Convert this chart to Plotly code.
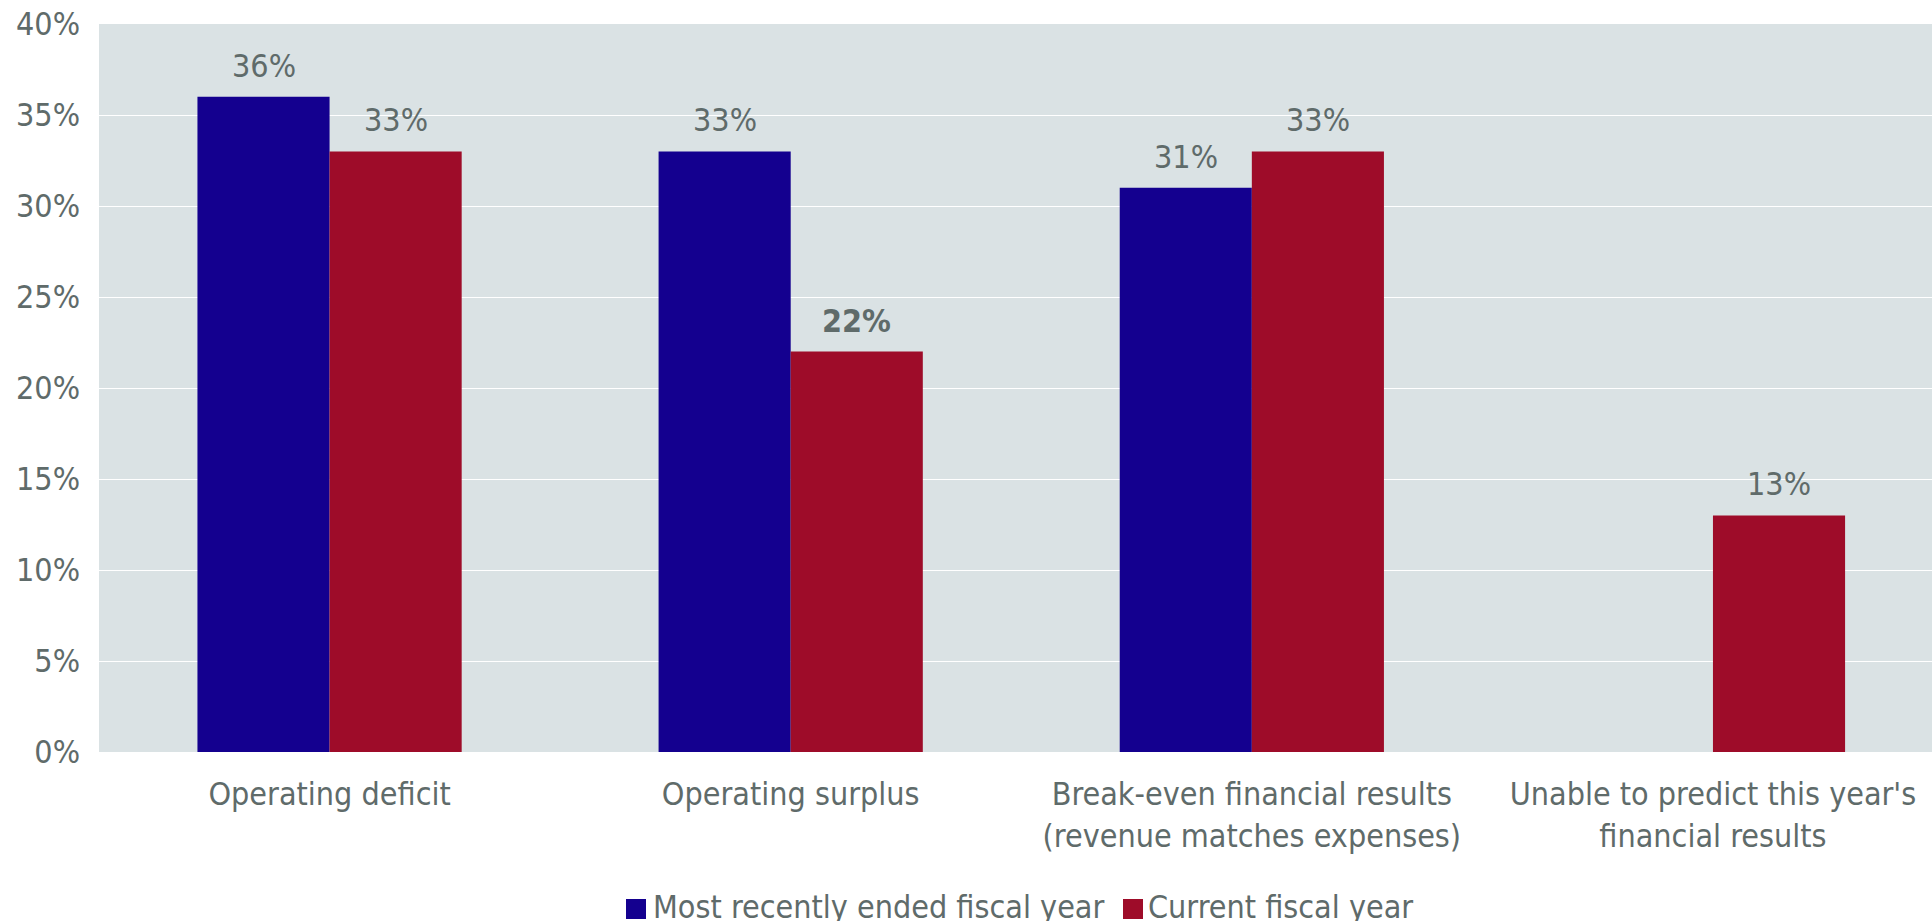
import plotly.graph_objects as go

categories = [
    "Operating deficit",
    "Operating surplus",
    "Break-even financial results<br>(revenue matches expenses)",
    "Unable to predict this year's<br>financial results",
]
series_names = ["Most recently ended fiscal year", "Current fiscal year"]
recent_year = [36, 33, 31, None]
current_year = [33, 22, 33, 13]
bold_labels = {("Current fiscal year", 1)}

y_ticks = [0, 5, 10, 15, 20, 25, 30, 35, 40]

colors = ["#14008f", "#9e0c29"]
text_gray = "#5f6b6a"
font_family = "DejaVu Sans Condensed, DejaVu Sans, sans-serif"
font_size = 32

# figure geometry
W, H = 1932, 921
M_L, M_R, M_T, M_B = 99, 0, 24, 169
BARGAP = 0.427
X_RANGE = [-0.5, 3.475]
plot_w = W - M_L - M_R
plot_h = H - M_T - M_B
cat_px = plot_w / (X_RANGE[1] - X_RANGE[0])
bar_px = cat_px * (1 - BARGAP) / 2


def label_text(name, i, v):
    if (name, i) in bold_labels:
        return f"<b>{v}%</b>"
    return f"{v}%"


fig = go.Figure()
annotations = []
for k, (name, values, color) in enumerate(zip(series_names, [recent_year, current_year], colors)):
    fig.add_trace(go.Bar(
        name=name,
        x=categories,
        y=values,
        marker=dict(color=color, line=dict(width=0)),
        showlegend=False,
    ))
    # value labels above each bar
    shift = (k - 0.5) * bar_px
    for i, (cat, v) in enumerate(zip(categories, values)):
        if v is None:
            continue
        annotations.append(dict(
            x=cat, y=v, xref="x", yref="y",
            text=label_text(name, i, v),
            showarrow=False,
            xanchor="center", yanchor="middle",
            xshift=shift, yshift=31,
            font=dict(family=font_family, size=font_size, color=text_gray),
        ))


def px_to_paper(px, py):
    return (px - M_L) / plot_w, (H - M_B - py) / plot_h


# legend drawn below the axis: swatch + caption per series
legend_items = [(626, 653), (1123, 1148)]
shapes = []
for (sw_x, txt_x), name, color in zip(legend_items, series_names, colors):
    x0, y0 = px_to_paper(sw_x, 919)
    x1, y1 = px_to_paper(sw_x + 20, 899)
    shapes.append(dict(
        type="rect", xref="paper", yref="paper",
        x0=x0, x1=x1, y0=y0, y1=y1,
        fillcolor=color, line=dict(width=0),
    ))
    tx, ty = px_to_paper(txt_x - 2, 907)
    annotations.append(dict(
        x=tx, y=ty, xref="paper", yref="paper",
        text=name, showarrow=False,
        xanchor="left", yanchor="middle",
        font=dict(family=font_family, size=font_size, color=text_gray),
    ))

fig.update_layout(
    width=W,
    height=H,
    margin=dict(l=M_L, r=M_R, t=M_T, b=M_B, autoexpand=False),
    paper_bgcolor="white",
    plot_bgcolor="#dae2e4",
    barmode="group",
    bargap=BARGAP,
    bargroupgap=0,
    font=dict(family=font_family, size=font_size, color=text_gray),
    showlegend=False,
    annotations=annotations,
    shapes=shapes,
)

fig.update_xaxes(
    range=X_RANGE,
    showgrid=False,
    showline=False,
    zeroline=False,
    ticks="",
    tickfont=dict(family=font_family, size=font_size, color=text_gray),
    ticklabelstandoff=20,
)
fig.update_yaxes(
    range=[0, 40],
    tickvals=y_ticks,
    ticktext=[f"{t}%" for t in y_ticks],
    showgrid=True,
    gridcolor="white",
    gridwidth=1,
    zeroline=False,
    showline=False,
    ticks="",
    tickfont=dict(family=font_family, size=font_size, color=text_gray),
    ticklabelstandoff=18,
)

fig.write_html("out.html")
